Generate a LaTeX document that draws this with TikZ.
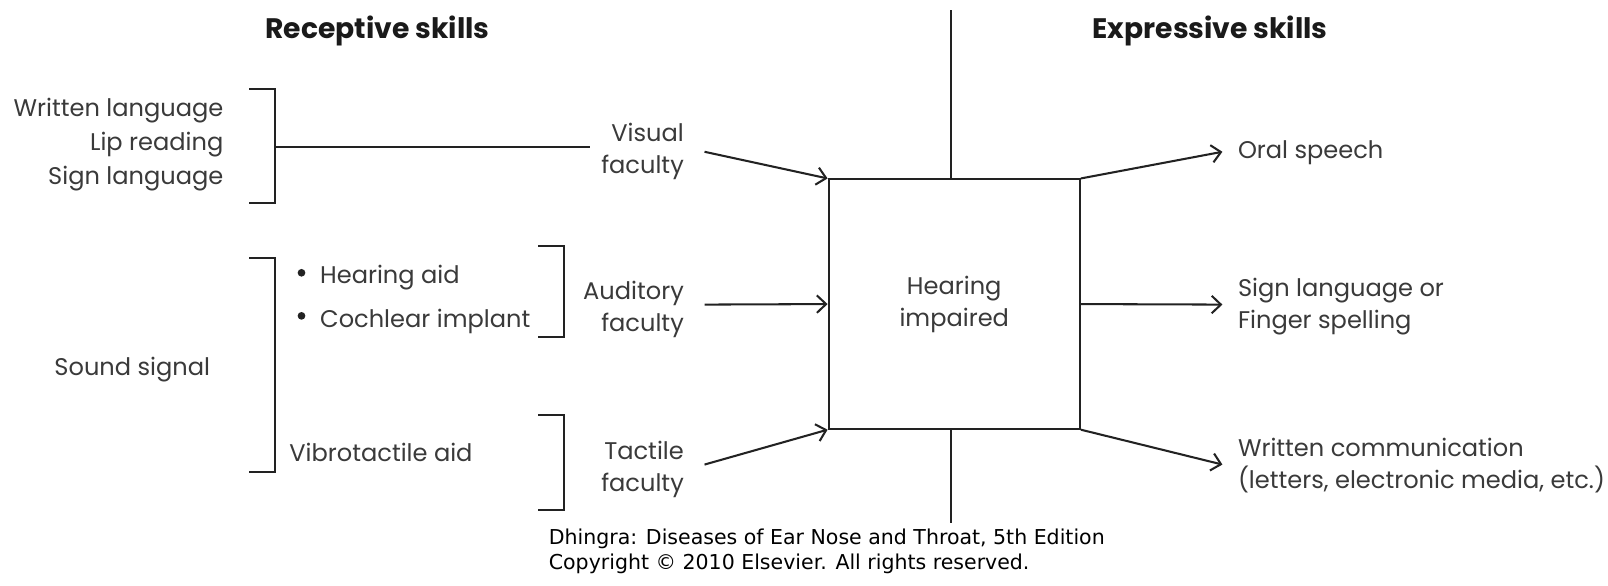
\documentclass[tikz,border=0pt]{standalone}
\usepackage{fontspec}
\setmainfont{Poppins}
\newfontfamily\capfont{DejaVu Sans}
\usetikzlibrary{arrows.meta}
\definecolor{linec}{HTML}{222222}
\definecolor{txtc}{HTML}{3A3A3A}
\definecolor{hdrc}{HTML}{1A1A1A}
\begin{document}
\begin{tikzpicture}[x=1pt,y=-1pt,
  ln/.style={line width=2pt, draw=linec},
  arr/.style={ln, -{Straight Barb[length=9pt,width=17pt,line width=2pt]}},
  lbl/.style={text=txtc, font=\fontsize{23.5}{31}\selectfont, inner sep=0pt},
  hdr/.style={text=hdrc, font=\fontsize{27.5}{30}\selectfont\bfseries, inner sep=0pt},
  captxt/.style={text=black, font=\capfont\fontsize{20}{23.5}\selectfont, inner sep=0pt, align=left},
  bul/.style={circle, fill=linec, inner sep=0pt, minimum size=7.5pt},
  bx/.style={ln, draw, minimum width=245pt, minimum height=243pt, inner sep=0pt}]
\useasboundingbox[fill=white] (0,0) rectangle (1568,571);

% headers
\node[hdr] (recept) at (368,30) {Receptive skills};
\node[hdr] (expr) at (1180,30) {Expressive skills};

% central box
\node[bx, lbl, align=center] (hi) at (930.5,296.5) {Hearing\\impaired};
\coordinate (tt) at (927,10);
\coordinate (tb) at (927,510);
\draw[ln] (tt) -- (tt |- hi.north);
\draw[ln] (tt |- hi.south) -- (tb);

% faculties
\node[lbl, align=right, anchor=east] (vis) at (667,148) {Visual\\faculty};
\node[lbl, align=right, anchor=east] (aud) at (667,302) {Auditory\\faculty};
\node[lbl, align=right, anchor=east] (tac) at (667,458) {Tactile\\faculty};
\coordinate (visS) at (687,148);
\coordinate (audS) at (687,297);
\coordinate (tacS) at (687,453);
\draw[arr] (visS) -- (hi.north west);
\draw[arr] (audS) -- (hi.west);
\draw[arr] (tacS) -- (hi.south west);

% outputs
\node[lbl, align=left, anchor=west] (oral) at (1207,149) {Oral speech};
\node[lbl, align=left, anchor=west] (sign) at (1207,299) {Sign language or\\Finger spelling};
\node[lbl, align=left, anchor=west] (writ) at (1207,454) {Written communication\\(letters, electronic media, etc.)};
\coordinate (oralE) at (1192,148);
\coordinate (signE) at (1192,297);
\coordinate (writE) at (1192,453);
\draw[arr] (hi.north east) -- (oralE);
\draw[arr] (hi.east) -- (signE);
\draw[arr] (hi.south east) -- (writE);

% visual group
\node[lbl, align=right, anchor=east, font=\fontsize{23.5}{33.5}\selectfont] (wl) at (218,141) {Written language\\Lip reading\\Sign language};
\draw[ln] (243,87) -- (268,87) -- (268,198) -- (243,198);
\coordinate (b1) at (268,143);
\coordinate (b1e) at (575,143);
\draw[ln] (b1) -- (b1e);

% sound group
\node[lbl, anchor=east] (ss) at (205,360) {Sound signal};
\draw[ln] (243,252) -- (268,252) -- (268,460) -- (243,460);
\node[bul] (hab) at (294,266) {};
\node[lbl, anchor=west] (ha) at (312,271) {Hearing aid};
\node[bul] (cib) at (294,308) {};
\node[lbl, anchor=west] (ci) at (312,313) {Cochlear implant};
\node[lbl, anchor=west] (va) at (282,441) {Vibrotactile aid};
\draw[ln] (525,240) -- (550,240) -- (550,329) -- (525,329);
\draw[ln] (525,405) -- (550,405) -- (550,497) -- (525,497);

% caption
\node[captxt, anchor=north west] (cp) at (535,516) {Dhingra: Diseases of Ear Nose and Throat, 5th Edition\\Copyright © 2010 Elsevier. All rights reserved.};
\end{tikzpicture}
\end{document}
